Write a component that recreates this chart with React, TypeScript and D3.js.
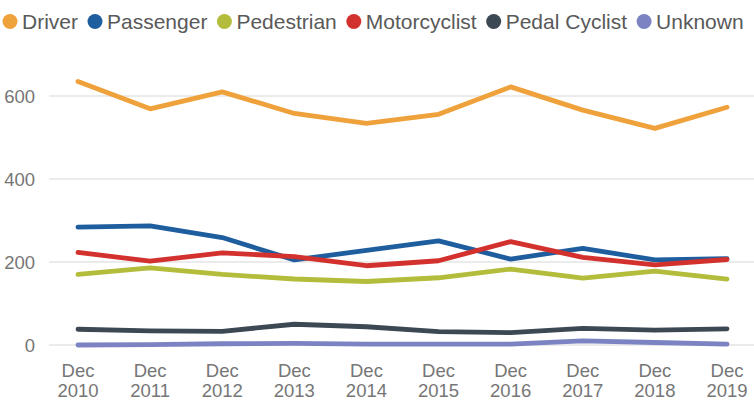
import React, { useEffect, useRef } from 'react';
import * as d3 from 'd3';

// years on the x axis (every point is December of that year)
const years = ['2010', '2011', '2012', '2013', '2014', '2015', '2016', '2017', '2018', '2019'];
const yTicks = [0, 200, 400, 600];

const seriesNames = ['Driver', 'Passenger', 'Pedestrian', 'Motorcyclist', 'Pedal Cyclist', 'Unknown'];
const seriesColors = ['#EFA23B', '#1F5E9E', '#B3BC3B', '#D3312E', '#3C4853', '#7B83C2'];

const driver = [635, 569, 610, 558, 534, 556, 622, 566, 522, 573];
const passenger = [284, 287, 259, 205, 228, 251, 207, 233, 205, 208];
const pedestrian = [170, 186, 170, 159, 153, 162, 183, 161, 178, 159];
const motorcyclist = [223, 202, 222, 213, 191, 203, 249, 211, 193, 206];
const pedalCyclist = [38, 34, 33, 50, 44, 32, 30, 40, 36, 39];
const unknown = [0, 1, 3, 4, 2, 2, 2, 10, 6, 2];

const seriesValues = [driver, passenger, pedestrian, motorcyclist, pedalCyclist, unknown];

const W = 754;
const H = 408;
const font = '"Liberation Sans", Arial, sans-serif';

const App = () => {
  const ref = useRef<SVGSVGElement>(null);

  useEffect(() => {
    const svg = d3.select(ref.current);
    svg.selectAll('*').remove();

    const x = d3.scalePoint<string>().domain(years).range([78, 727]);
    const y = d3.scaleLinear().domain([0, 600]).range([345, 96]);

    // gridlines
    svg.append('g')
      .selectAll('line')
      .data(yTicks)
      .enter().append('line')
      .attr('x1', 49)
      .attr('x2', W)
      .attr('y1', d => y(d))
      .attr('y2', d => y(d))
      .attr('stroke', '#e5e5e5')
      .attr('stroke-width', 1.5);

    // y labels
    svg.append('g')
      .selectAll('text')
      .data(yTicks)
      .enter().append('text')
      .attr('x', 35)
      .attr('y', d => y(d))
      .attr('dy', '0.36em')
      .attr('text-anchor', 'end')
      .attr('font-family', font)
      .attr('font-size', 18.5)
      .attr('fill', '#767676')
      .text(d => d);

    // x labels, two rows
    const xl = svg.append('g')
      .selectAll('text')
      .data(years)
      .enter().append('text')
      .attr('text-anchor', 'middle')
      .attr('font-family', font)
      .attr('font-size', 18.5)
      .attr('fill', '#767676');
    xl.append('tspan').attr('x', d => x(d)!).attr('y', 377).text('Dec');
    xl.append('tspan').attr('x', d => x(d)!).attr('y', 397).text(d => d);

    // lines, in legend order (last one on top)
    const line = d3.line<number>()
      .x((_, i) => x(years[i])!)
      .y(d => y(d));

    svg.append('g')
      .selectAll('path')
      .data(seriesValues)
      .enter().append('path')
      .attr('d', d => line(d))
      .attr('fill', 'none')
      .attr('stroke', (_, i) => seriesColors[i])
      .attr('stroke-width', 4.8)
      .attr('stroke-linecap', 'round')
      .attr('stroke-linejoin', 'round');

    // legend, laid out by measuring each label
    const legend = svg.append('g');
    let lx = 10;
    seriesNames.forEach((name, i) => {
      legend.append('circle')
        .attr('cx', lx)
        .attr('cy', 21.5)
        .attr('r', 7.5)
        .attr('fill', seriesColors[i]);
      const t = legend.append('text')
        .attr('x', lx + 12)
        .attr('y', 28.5)
        .attr('font-family', font)
        .attr('font-size', 21)
        .attr('fill', '#595959')
        .text(name);
      const w = (t.node() as SVGTextElement).getComputedTextLength();
      lx = lx + 12 + w + 17;
    });
  }, []);

  return (
    <div style={{ position: 'absolute', left: 0, top: 0 }}>
      <svg ref={ref} width={W} height={H} style={{ display: 'block', background: '#fff' }} />
    </div>
  );
};

export default App;
